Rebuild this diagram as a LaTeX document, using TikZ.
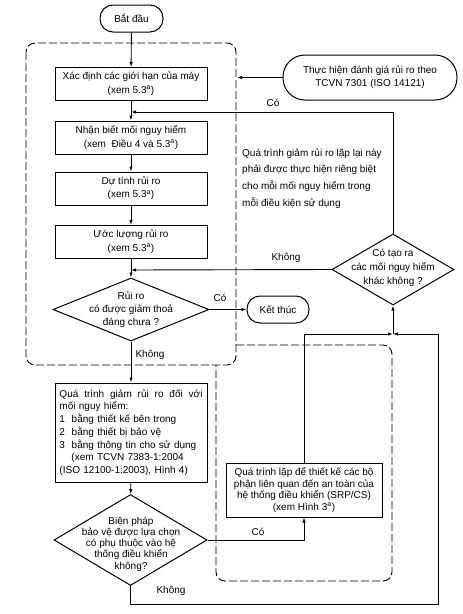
\documentclass[tikz,border=0pt]{standalone}
\usepackage{fontspec}
\setmainfont{Liberation Sans}
\usetikzlibrary{shapes.geometric, arrows.meta}

\begin{document}
\begin{tikzpicture}[x=1pt, y=-1pt,
  every node/.style={font=\fontsize{10}{13.5}\selectfont},
  stepbox/.style={draw, line width=1pt, minimum width=152pt, minimum height=33pt, align=center, inner sep=0pt},
  termbox/.style={draw, line width=1pt, rounded corners=13pt, minimum height=27pt, inner sep=0pt},
  choice/.style={draw, diamond, line width=1pt, inner sep=0pt},
  grpline/.style={line width=0.9pt, dash pattern=on 8pt off 3pt, rounded corners=9pt},
  flow/.style={line width=0.9pt, -{Latex[length=5pt, width=3.5pt]}}
]

% Fix the page size
\useasboundingbox (0,0) rectangle (463,614);

% Dashed groups
\draw[grpline] (26,43) rectangle (236,365);
\draw[grpline] (236,345) -- (392,345) -- (392,581) -- (216,581) -- (216,365);

% Start and outside input
\node[termbox, minimum width=63pt] (start) at (131.5,18.5) {Bắt đầu};
\node[termbox, minimum width=174pt, minimum height=45pt, rounded corners=22pt, align=center, font=\fontsize{10}{12.5}\selectfont] (eval) at (370,77.5) {Thực hiện đánh giá rủi ro theo\\TCVN 7301 (ISO 14121)};

% Steps of the risk assessment
\node[stepbox] (b1) at (131,84) {Xác định các giới hạn của máy\\(xem 5.3\textsuperscript{a})};
\node[stepbox] (b2) at (131,137.5) {Nhận biết mối nguy hiểm\\(xem\ \ Điều 4 và 5.3\textsuperscript{a})};
\node[stepbox] (b3) at (131,188.5) {Dự tính rủi ro\\(xem 5.3\textsuperscript{a})};
\node[stepbox] (b4) at (131,242) {Ước lượng rủi ro\\(xem 5.3\textsuperscript{a})};

% Decision: risk reduced?
\node[choice, minimum width=156pt, minimum height=63pt] (d1) at (131,309.5) {};
\node[align=center, font=\fontsize{10}{13}\selectfont] (d1txt) at (d1) {Rủi ro\\có được giảm thoả\\đáng chưa ?};
\node[termbox, minimum width=62pt] (end) at (278,309.5) {Kết thúc};

% Decision: other hazards?
\node[choice, minimum width=122pt, minimum height=71pt] (d2) at (393,269.5) {};
\node[align=center, font=\fontsize{10}{14}\selectfont] (d2txt) at (393,268) {Có tạo ra\\các mối nguy hiểm\\khác không ?};

% Note on the iteration
\node[align=left, anchor=north west, inner sep=0pt, font=\fontsize{10}{16.7}\selectfont] (note) at (242,148.5) {Quá trình giảm rủi ro lặp lại này\\phải được thực hiện riêng biệt\\cho mỗi mối nguy hiểm trong\\mỗi điều kiện sử dụng};

% Risk reduction
\node[stepbox, minimum height=99pt, text width=143pt, inner xsep=4.5pt, align=left, font=\fontsize{10}{12.7}\selectfont] (b5) at (131,432.5) {Quá\hfill trình\hfill giảm\hfill rủi\hfill ro\hfill đối\hfill với\\mối nguy hiểm:\\1\ \ bằng thiết kế bên trong\\2\ \ bằng thiết bị bảo vệ\\3\ \ bằng thông tin cho sử dụng\\\hspace*{12pt}(xem TCVN 7383-1:2004\\(ISO 12100-1:2003), Hình 4)};

% Decision: depends on control system?
\node[choice, minimum width=153pt, minimum height=91pt] (d3) at (130.5,540) {};
\node[align=center, font=\fontsize{10}{11.2}\selectfont] (d3txt) at (131,544) {Biện pháp\\bảo vệ được lựa chọn\\có phụ thuộc vào hệ\\thống điều khiển\\không?};

% SRP/CS design
\node[stepbox, minimum width=156pt, minimum height=54pt, font=\fontsize{10}{11.7}\selectfont] (b6) at (304,490) {Quá trình lặp để thiết kế các bộ\\phận liên quan đến an toàn của\\hệ thống điều khiển (SRP/CS)\\(xem Hình 3\textsuperscript{a})};

% Branch labels
\node (lblco1) at (273,103) {Có};
\node (lblkh1) at (286,258) {Không};
\node (lblco2) at (220,298) {Có};
\node (lblkh2) at (150,355) {Không};
\node (lblco3) at (258,532) {Có};
\node (lblkh3) at (171,591) {Không};

% Free ends of connectors
\coordinate (evalin) at (237,77.5);
\coordinate (loopin) at (131,112);
\coordinate (b4in) at (131,270);
\coordinate (mergept) at (393,334);
\coordinate (loopr) at (438,604);

% Connectors
\draw[flow] (start) -- (b1);
\draw[flow] (eval) -- (evalin);
\draw[flow] (b1) -- (b2);
\draw[flow] (b2) -- (b3);
\draw[flow] (b3) -- (b4);
\draw[flow] (b4) -- (d1);
\draw[flow] (d1.east) -- (end.west);
\draw[flow] (d1) -- (b5);
\draw[flow] (b5) -- (d3);
\draw[flow] (d3.east) -| (b6.south);
\draw[flow] (b6.north) |- (mergept);
\draw[flow] (d3.south) |- (loopr) |- (mergept);
\draw[flow] (mergept) -- (d2.south);
\draw[flow] (d2.north) |- (loopin);
\draw[flow] (d2.west) -- (b4in);

\end{tikzpicture}
\end{document}
